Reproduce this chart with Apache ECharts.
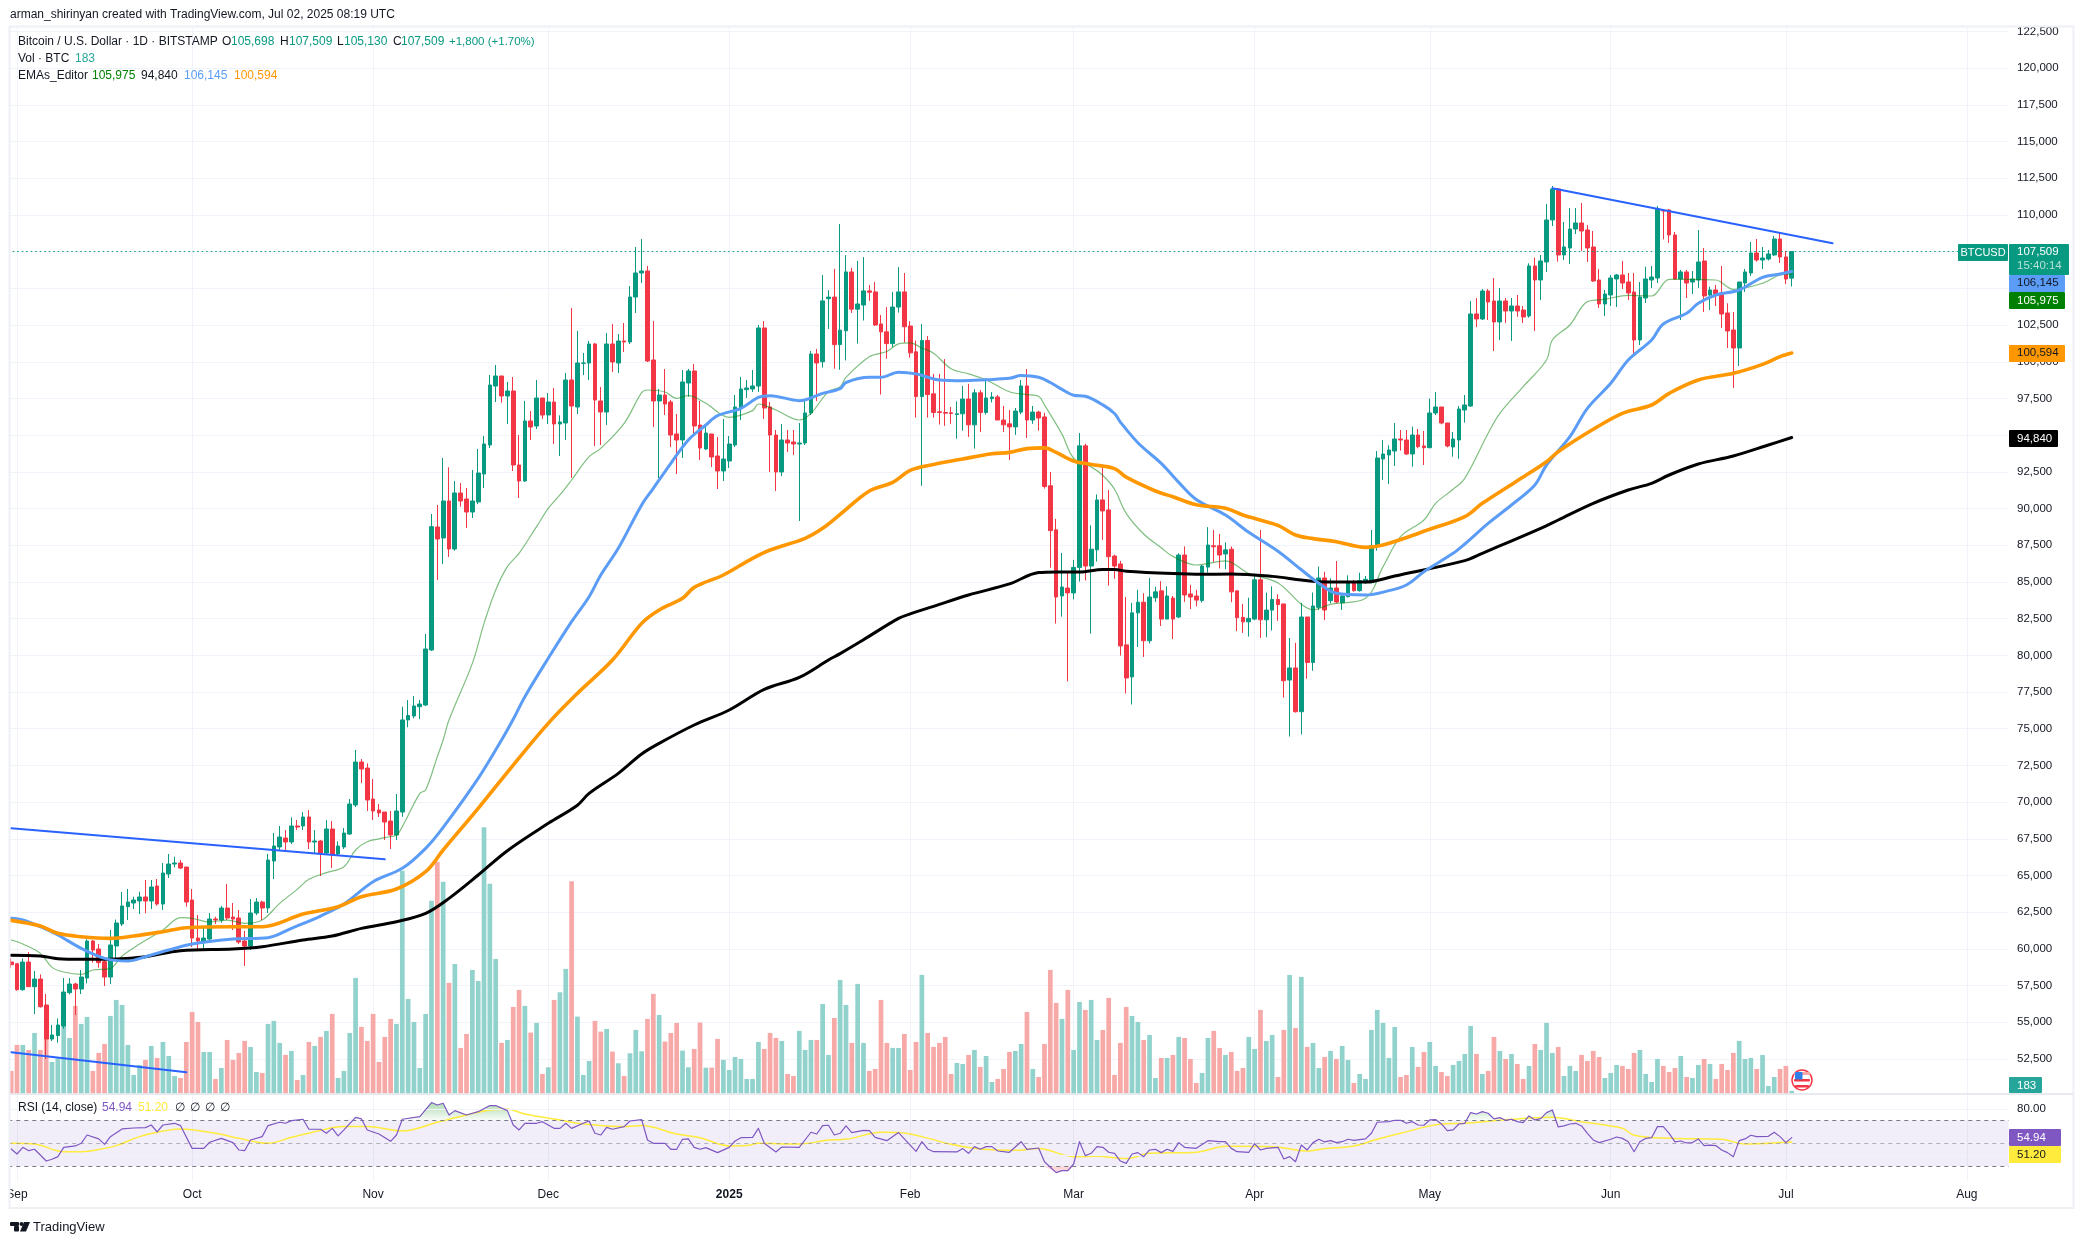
<!DOCTYPE html>
<html><head><meta charset="utf-8">
<style>html,body{margin:0;padding:0;background:#fff}#c{width:2084px;height:1244px}</style>
<script src="https://cdn.jsdelivr.net/npm/echarts@6/dist/echarts.min.js"></script>
</head><body><div id="c"></div>
<script>
// Each candle array runs from 2024-08-31 to 2025-07-02
const opens=[59107,58993,57222,59107,57427,57949,56178,53861,54100,54747,
57018,57609,57268,58017,60538,59993,59130,58085,60197,61696,
62877,63127,63263,63536,63263,64285,63059,65103,65784,65852,
65580,63332,60742,60538,60674,62037,61968,62786,62173,62105,
60538,60197,62445,63195,62786,65988,66942,67555,67283,68373,
68373,68986,67283,67351,66533,68168,66465,66942,67828,69804,
72733,72324,70212,69463,69327,68713,67760,69327,75600,75866,
76500,76617,80364,88744,87994,90515,87245,91060,90651,89765,
90447,92355,94330,98350,99031,97669,98009,92968,91877,95965,
95624,97532,96374,97260,95761,95829,98759,96919,99900,99917,
101211,97328,96578,101211,99917,101416,101348,104413,106049,106185,
100121,97328,97737,97260,95080,94671,98554,99372,95693,94058,
95080,93581,92559,93241,94330,96851,98100,98146,98350,102302,
96919,95011,92491,94671,94535,94398,94466,96510,100530,100000,
104300,104406,101169,102107,106119,103585,103867,104829,104758,102576,
102037,101239,103726,104758,102436,100676,97626,101450,97814,96594,
96547,96524,96407,96454,97462,95702,97884,96547,97485,97603,
96031,95773,95562,96570,98354,96031,96570,96242,91550,88548,
84043,84583,84254,85990,94271,86084,87187,90588,89908,86764,
86225,80712,78530,82894,83621,80993,83925,84395,82471,83902,
82612,86835,84184,84043,83738,86014,87468,87468,86906,87233,
84395,82588,82283,82471,85146,82424,83081,83808,83503,78319,
79140,76160,82612,79515,83271,85268,83725,84587,83589,83997,
84997,84406,84951,84951,87449,93376,93649,93922,94739,94671,
93717,95011,94262,94148,96510,96919,95829,94194,94670,96715,
96987,103255,102915,104822,104141,102710,104141,103459,103800,103527,
103119,106526,105572,106798,109660,111772,107275,107752,109046,109455,
108978,107820,105572,103937,104550,105640,105913,105435,104754,101484,
104345,105572,105708,110300,110341,108638,105640,106117,105435,105572,
106866,104550,104890,104686,103323,102165,100939,105367,106048,107411,
106934,107002,107275,108365,107139,105698];
const closes=[58925,57222,59107,57427,57949,56064,53861,54134,54815,57063,
57609,57268,58085,60538,59925,59062,58085,60265,61764,62922,
63195,63332,63536,63263,64217,63059,65171,65784,65852,65511,
63195,60742,60538,60742,62037,61968,62786,62105,62037,60470,
60197,62445,63195,62786,66056,67010,67623,67283,68373,68300,
68986,67283,67351,66533,68168,66465,67010,67896,69872,72733,
72256,70144,69395,69259,68645,67760,69395,75600,75900,76549,
76685,80431,88766,87926,90515,87245,91060,90515,89765,90515,
92423,94398,98418,99031,97669,98009,92968,91877,95965,95556,
97532,96374,97260,95761,95897,98759,96987,99917,99917,101211,
97396,96578,101211,99985,101416,101348,104413,106049,106185,100053,
97328,97737,97123,95011,94671,98622,99372,95624,94126,95147,
93513,92559,93377,94398,96919,98146,98213,98350,102302,96851,
95011,92491,94671,94466,94398,94466,96510,100530,99917,104148,
104406,101169,102154,106119,103585,103937,104829,104735,102506,102037,
101239,103726,104758,102389,100606,97626,101450,97767,96547,96547,
96500,96477,96454,97462,95702,97884,96547,97532,97603,96031,
95702,95562,96641,98354,96031,96570,96172,91503,88500,83973,
84653,84254,85990,94271,86084,87234,90588,89838,86719,86084,
80641,78460,82894,83621,80993,83973,84325,82471,84043,82471,
86835,84114,83973,83762,86084,87515,87398,86835,87186,84325,
82565,82283,82518,85146,82424,83081,83808,83456,78272,79140,
76160,82612,79515,83363,85268,83088,84587,83634,84043,84997,
84406,85088,85179,87472,93444,93717,93989,94739,94671,93717,
95011,94216,94148,96510,96919,95829,94262,94739,96783,97056,
103255,102915,104822,104073,102710,104141,103459,103800,103459,103051,
106526,105572,106866,109660,111772,107275,107820,109046,109455,108910,
107752,105504,103937,104618,105708,105913,105367,104686,101484,104414,
105640,105776,110409,110272,108638,105640,106117,105367,105640,106798,
104482,104890,104618,103255,102097,100939,105435,106117,107411,106934,
107070,107343,108365,107139,105640,107509];
const highs=[59357,59000,59350,59788,58494,58267,56927,54815,55270,58017,
58017,57700,58562,60651,60600,60333,59357,61287,62000,63876,
64081,63558,63900,64694,64694,64762,65852,66465,66283,66056,
65580,64081,62309,61423,62445,62190,62922,64422,63127,62650,
61219,63400,63468,63286,66465,67896,68373,68100,68963,68780,
69327,69463,68100,67419,68782,68713,67328,68236,70212,73551,
72937,72642,71575,69872,69327,69395,70553,76500,76950,77229,
76957,81454,89629,90243,93445,92810,91877,91741,91400,92627,
94058,94944,99099,99780,99031,98622,98963,95011,97328,96647,
98759,97532,97873,98213,96351,99235,103664,102097,100598,101416,
101280,98282,101961,102574,101893,102642,105163,107820,108365,106526,
102778,98146,99508,97396,96442,99440,99508,99849,97328,95557,
95080,94875,96101,94943,97737,98963,98758,99440,102506,102778,
97260,95352,95761,95352,95352,95830,97328,100734,100870,105908,
104875,106330,109380,107268,106400,106870,107128,105227,105439,103186,
103726,104758,106447,106048,102764,101450,102577,101755,99175,99175,
100183,96923,97298,98354,98494,98143,98072,98870,97931,97744,
96993,96711,96852,98753,99503,96993,96665,96524,92489,89298,
86975,85685,86506,95140,94413,88852,90964,92840,91269,86858,
86436,83973,83574,84465,84231,85263,84677,85052,84700,84043,
86952,87421,84794,84465,86155,88735,88547,88266,87703,87421,
84395,83503,83925,85568,88547,84278,84700,84161,83503,81180,
80852,83574,82612,84278,86041,85700,85250,86427,84225,85451,
85133,85633,85406,88539,93921,94671,94308,95829,95352,95352,
95579,95420,95284,97487,97941,96919,95829,95216,96987,97737,
104141,104345,104958,104958,105708,105027,104345,104345,104550,103800,
106707,107093,107275,110750,111976,111840,109523,110477,110477,110818,
109319,108910,106321,104890,105913,105980,106866,106048,106048,105435,
106480,106526,110613,110400,110409,108842,106253,106253,106180,108978,
107752,105117,105230,106526,103982,103391,105435,106321,108161,108365,
107820,107616,108570,108774,107548,107509];
const lows=[58721,57154,57150,57400,55564,56000,52499,53724,53611,54566,
56900,55496,56927,57654,59062,58721,57472,57609,59243,61560,
61969,62718,62377,62423,62718,62945,62650,64830,65557,65443,
62877,60129,59970,59857,60538,61696,61787,61969,61287,60333,
58835,59925,62300,61968,62445,64762,66670,66624,67147,68100,
68100,66806,66510,64966,66465,65511,66329,66806,67760,69667,
71302,69395,68782,68986,67419,66806,67419,69000,75100,75707,
75662,76549,80300,85133,86222,86700,87131,90130,88675,89357,
90300,91400,94126,97260,97215,95761,92559,90720,91810,94670,
95420,96102,95761,94399,93581,94671,92082,96442,99099,98758,
94262,94330,95693,99303,99235,100666,101211,103323,105367,99985,
95557,92082,96374,94194,92355,93445,97623,95011,93309,93990,
92832,91332,91877,92763,94194,96033,97532,97941,97941,96102,
92491,91196,92218,93853,93649,89152,94330,96374,97328,99600,
102233,99527,99456,100090,103327,101239,102811,104148,102436,97767,
100207,101000,103350,101309,100277,96195,91550,96195,96195,95726,
95632,95773,94764,95304,94882,94084,95210,96400,97228,96031,
95210,93310,95022,96430,94811,95773,95304,91362,85967,82166,
82635,78225,83808,85028,85098,81486,86389,87867,84747,85216,
79985,77403,76653,80571,79891,80806,83644,82001,82471,81111,
82541,83644,83152,83339,83600,85639,86342,85920,85873,83621,
81650,81531,81275,82400,81180,81228,81697,82354,77121,74472,
76100,74613,78413,78952,83088,82400,83543,83543,83088,83952,
84338,84338,84861,84906,87134,91946,91673,92899,93944,93649,
92854,94102,92968,94100,96374,95738,94170,93535,93399,95851,
96919,102370,102847,102847,100734,101484,102642,101416,103066,102642,
103000,102097,104209,106117,109251,106821,106934,106662,108700,107548,
106798,105435,103664,103119,103800,103732,104959,104209,100394,101143,
104005,105027,105367,108340,108093,105600,102846,104345,104618,105027,
103392,103528,103800,102302,100939,98214,99713,104754,105844,106821,
106321,106900,107207,106730,105299,105130];
const volumes=[1675,3625,3625,3250,4525,3250,4075,2350,2625,5125,
4150,6550,5200,5725,1675,3025,3700,5800,7000,6625,
3625,1375,2125,2500,3550,2650,3850,2800,1300,1150,
3850,6100,5350,3100,3100,1075,1900,4000,2500,3025,
3925,3475,1600,1525,5200,5425,3775,2875,3175,1000,
1375,3850,3550,4225,4675,5950,1150,1675,4525,8650,
4975,3925,5950,2350,4225,5575,5200,16675,7075,5350,
1900,5950,14425,17350,15850,8275,9700,3400,4450,9250,
8425,19950,15700,10075,3775,4000,6475,7750,6550,4550,
5275,1450,1950,7000,7575,9325,15900,5750,1375,2425,
5425,4625,4825,3125,2250,1300,3000,4750,3150,5575,
7450,5875,3875,4525,5275,3200,1950,3325,5300,1925,
1925,4075,2500,1750,2725,2575,1075,1075,3850,3325,
4525,4150,3925,1450,1300,4675,3250,4000,4000,6700,
2875,5650,8500,6625,3775,8200,3775,1675,1825,7000,
3775,3400,3400,4450,1750,3850,8875,4525,3475,3775,
4225,1450,2275,2200,2875,3250,1975,2800,850,1075,
1825,3100,3175,3700,6100,1825,1225,3700,9250,6775,
5575,7750,3250,6850,6250,7000,4000,4750,7150,1375,
3775,6475,5800,5350,4000,4375,1150,2650,2650,2875,
4225,4150,2575,775,1525,4150,4675,3400,2875,3100,
1675,1900,4225,3325,6250,3925,4375,1225,4750,8875,
4900,8725,3475,3775,1900,2725,3175,2575,3550,2500,
775,1450,1075,4750,6250,5275,2650,4975,1225,1375,
3475,1975,3100,3850,2050,1600,1300,2125,2425,2950,
5050,2950,1450,1675,4225,3175,2575,2950,2200,1075,
2050,3700,3250,5275,3025,3475,1300,2050,1675,2875,
2425,3175,2725,1150,1525,2125,2050,1825,3025,3250,
1450,850,2575,2050,1600,1900,2800,1225,1150,2125,
2575,2200,1075,2200,1750,3025,3925,2575,2650,1825,
2875,550,1225,1825,2050,183];

// Days counted from 2024-09-01
const ema20Days=[-1,1,4,6,8,11,13,16,18,21,25,28,30,33,36,39,42,45,48,50,53,56,58,60,63,65,66,69,70,72,73,74,78,80,82,84,86,89,91,93,95,98,100,104,107,108,111,113,115,118,122,126,127,130,134,136,139,141,142,146,149,151,153,155,157,160,163,166,170,173,175,176,179,181,184,186,188,190,193,196,198,202,207,211,216,220,222,225,231,234,237,241,243,246,248,252,254,258,262,263,266,269,272,276,280,283,286,291,294,299,302,304];
const ema20Values=[60606,60333,59698,58744,58426,58267,58562,58675,59516,60333,61287,62127,62082,61832,61968,61741,61968,63104,64058,64739,65193,65602,66738,67305,67578,67760,68327,70598,70825,73097,74232,75594,79455,82180,84451,86041,86949,88766,90015,90924,91946,93535,94103,95806,97895,98077,97941,97510,97691,97169,96215,96669,97123,96715,96033,96488,97964,98300,98940,100348,100700,101216,101286,100934,100582,99527,99175,98776,97955,97767,97650,97064,95069,93427,92840,92254,91315,89673,88266,87328,86741,86155,86436,85568,84934,83475,83105,83475,83884,86041,88085,89220,90356,91310,92059,95125,96488,98305,100121,101484,102506,104096,104255,104527,104482,105617,105617,105572,104936,105345,105912,105975];
const ema50Days=[-1,1,4,7,11,15,19,22,26,30,37,43,47,52,56,61,66,70,73,79,83,85,87,91,95,98,100,103,107,109,112,115,118,120,124,127,129,134,138,141,142,146,148,151,154,158,162,166,170,172,175,177,179,181,183,186,188,189,192,196,199,202,207,211,216,220,223,226,231,235,238,241,246,248,252,256,260,262,266,269,273,276,280,282,286,288,291,295,299,302,304];
const ema50Values=[62082,61968,61514,60946,60038,59357,59175,59470,59925,60333,60674,60765,61401,62241,63059,64580,65489,66851,68282,71620,74232,75650,77185,79800,82294,83997,85473,87290,90243,91378,93081,94671,95693,96329,96828,97578,97691,97351,97850,98168,98588,98940,98940,99292,99175,98753,98705,98776,98870,99058,98940,98588,98119,97721,97650,97064,96476,95890,94484,93075,91785,90612,89556,88383,87093,85830,84906,84225,84111,84406,84792,85700,86949,87585,88993,90242,91605,92967,94898,96829,98531,100121,101484,102575,103300,103982,104550,104890,105753,105980,106145];
const ema100Days=[-1,4,7,11,16,20,25,29,37,42,49,55,59,65,70,73,79,85,91,96,102,107,110,114,116,121,126,129,135,138,141,146,150,153,157,162,167,170,173,176,178,181,184,188,190,195,198,202,207,210,216,219,222,226,231,234,242,248,251,257,262,264,270,275,280,283,288,294,299,302,304];
const ema100Values=[61946,61560,61060,60833,60720,60878,61174,61446,61514,61514,62377,62877,63558,64081,65261,66738,69576,72528,75367,77411,79682,82178,83089,83883,84633,85474,86609,87177,87972,88652,89600,91198,91785,92606,93005,93380,93732,93826,94084,94131,93826,93239,93005,92723,92137,91198,90799,90260,90025,89556,88852,88200,87950,87744,87358,87518,88585,89447,90356,91900,93194,93876,95398,96488,97055,97850,98759,99212,99826,100348,100594];
const ema200Days=[-1,4,7,11,17,22,28,37,42,49,54,59,65,70,74,79,84,91,96,98,103,107,110,116,122,128,134,139,141,145,151,153,157,163,170,175,178,182,186,188,190,198,203,208,215,220,223,231,236,248,251,261,264,270,276,280,283,288,294,300,304];
const ema200Values=[59561,59516,59334,59289,59311,59470,59879,59993,60152,60606,60878,61401,61855,62423,63445,65034,66692,68554,69790,70598,71960,73278,74004,75254,76275,77680,78500,79682,80120,81064,82518,82823,83339,84114,84864,85639,85685,85685,85849,85849,85732,85568,85521,85544,85380,85133,85020,84996,85405,86450,86949,88653,89220,90356,91264,91718,92286,93036,93581,94330,94840];
const rsiDays=[-1,0,1,2,3,4,5,6,7,8,10,11,12,14,15,16,18,20,22,23,24,25,27,28,30,32,33,35,37,38,39,40,42,43,45,46,47,49,50,52,53,54,55,56,58,59,60,62,64,65,66,69,71,72,73,74,75,77,79,81,82,84,85,86,87,89,90,91,92,93,94,95,97,98,99,100,101,102,104,105,107,108,109,111,112,113,114,115,116,117,118,120,122,123,124,126,127,128,130,131,134,136,137,138,139,140,141,142,143,145,146,147,149,151,154,155,156,157,161,162,163,164,165,166,167,168,170,172,173,175,176,178,179,180,181,182,183,184,185,186,187,188,189,190,191,192,193,194,195,196,197,198,199,200,202,204,206,207,208,209,211,212,213,214,216,217,218,219,220,221,222,223,224,225,226,227,228,229,231,232,233,235,236,237,238,239,240,241,242,243,244,245,246,247,248,249,250,251,252,253,254,255,256,257,258,259,260,261,262,263,264,265,266,267,268,269,270,271,273,274,275,276,277,278,279,280,281,282,283,284,285,286,287,288,289,290,291,292,293,294,295,296,297,298,300,301,302,303,304];
const rsiValues=[45.1,40.7,46.5,43.6,44.8,39.8,34.6,36.1,38.4,46.5,47.7,50,57.2,53.8,49.1,55.8,62.5,63.3,63.6,65.9,59.9,65.9,67.4,65.4,45.6,45.6,50.9,54.3,50.6,44.2,43.6,52.9,55.8,65.4,68.3,67.4,69.7,70.9,62.2,62.2,58.7,63,56.4,61.6,72.6,71.2,61.6,58.1,51.7,57.2,70.9,73.2,85.4,83.3,84.8,74.6,78.4,74.6,77.5,82.8,82.8,78.4,65.9,61.6,67.4,67.4,68.8,65.9,63,63,67.4,63,67.4,69.4,58.7,57.2,63.9,62.2,64.5,69.4,70.6,52.9,50,50,44.8,44.8,53.5,53.8,46.5,44.8,46.2,41.9,46.5,52,54.9,55.2,63,50,42.5,46.8,46.5,59.6,58.1,65.4,65.7,57.2,58.7,65.1,59.3,61.3,61,55.2,52.3,59.3,43,51.4,45.1,42.7,42.5,45.4,41.3,47.1,44.8,47.1,47.1,43.3,42.2,51.4,44.8,45.9,34,24.5,26.2,26.2,32,51.4,39.3,41.3,47.1,46.5,42.2,41.3,34.6,32.6,40.7,41.9,38.4,44.2,44.8,41.9,44.8,43,50.6,46.5,45.6,52.3,51.4,51.4,45.6,42.7,42.2,49.7,44.2,45.6,46.5,36.4,38.4,34,48.5,44.2,50.6,53.5,51.2,52.3,50.6,51.4,53.5,52.6,53.8,58.7,68.3,68.8,70,70,67.4,68.8,65.9,65.7,70.3,70.6,66.8,61,61.6,66.8,67.4,76.7,75.5,77.5,76.1,71.2,72.3,70,70.9,68.8,68,73.8,70.3,71.5,76.7,79,64.2,65.1,66.8,67.4,65.1,58.7,52.9,50.6,53.5,55.5,54.3,51.4,42.7,51.4,54.3,54.9,64.5,64.5,58.7,51.2,52,50.3,50.6,53.8,48,48.5,48,44.2,41.9,38.4,52.3,53.8,57,55.8,56.1,59.6,55.8,50.6,54.94];
const rsiMaDays=[-1,3,8,11,15,17,21,24,28,34,38,43,47,51,56,60,66,72,77,81,84,87,93,96,104,107,113,117,122,125,127,134,139,142,148,151,155,160,165,171,175,181,185,190,194,202,207,215,221,224,229,233,237,244,248,254,263,268,275,277,283,292,296,303,304];
const rsiMaValues=[50,49.4,42.7,42.7,45.6,48,55.8,59.6,62.5,58.7,54.3,50,55.2,60.1,64.5,64.5,60.7,68.3,74.6,79,79.6,75.5,70.3,67.4,64.5,65.4,58.1,54.9,47.7,48,50,49.4,52.9,53.5,59.6,59.3,55.8,49.1,45,43.9,45.4,38.4,38.7,36.7,41.3,42.2,47.4,47.1,43.3,45.4,47.7,53.5,58.7,66.8,67.4,70,72.6,68.8,63,57,54.3,53.5,49.4,50.9,51.2];
const trendA={days:[263,311],prices:[111817,108072]};
const trendB={days:[-1,63],prices:[68214,66102]};
const trendC={days:[-1,29],prices:[52953,51590]};
const priceTickMin=50000,priceTickMax=122500,priceStep=2500;
const lastPrice=107509;

const UP='#089981',DOWN='#f23645',UPV='#92d2cc',DOWNV='#f7a9a7';
const FONT='"Liberation Sans",Arial,sans-serif';
const monthLabels={'2024-09-01':'Sep','2024-10-01':'Oct','2024-11-01':'Nov','2024-12-01':'Dec','2025-01-01':'2025','2025-02-01':'Feb','2025-03-01':'Mar','2025-04-01':'Apr','2025-05-01':'May','2025-06-01':'Jun','2025-07-01':'Jul','2025-08-01':'Aug'};
const slotCount=343;
const dates=[];
for(let i=0;i<slotCount;i++){dates.push(new Date(Date.UTC(2024,7,31+i)).toISOString().slice(0,10));}
const dayKey=d=>dates[d+1];
const pairs=(ds,vs)=>ds.map((d,i)=>[dayKey(d),vs[i]]);
const isMonth=(i,v)=>!!monthLabels[v];
const GL=8.24,GW=2002.4;
const gridColor='#f0f3fa';

const candleData=opens.map((o,i)=>[o,closes[i],lows[i],highs[i]]);
const volData=volumes.map((v,i)=>({value:v,itemStyle:{color:closes[i]>=opens[i]?UPV:DOWNV}}));
const rsiPairs=pairs(rsiDays,rsiValues);

function lineSeries(name,data,color,width,xi,yi,z,extra){
  return Object.assign({name,type:'line',data,xAxisIndex:xi,yAxisIndex:yi,z,showSymbol:false,symbol:'none',silent:true,animation:false,
    lineStyle:{color,width,cap:'round',join:'round'}},extra||{});
}
const SMOOTH={smooth:0.35};
const catBase={type:'category',data:dates,boundaryGap:true,axisLine:{show:false},axisTick:{show:false}};
const option={
  animation:false,backgroundColor:'#fff',
  grid:[
    {left:GL,width:GW,top:31.5,height:1064.2},
    {left:GL,width:GW,top:26,height:1067.3},
    {left:GL,width:GW,top:1094.4,height:86.3}
  ],
  xAxis:[
    Object.assign({},catBase,{gridIndex:0,axisLabel:{show:false},splitLine:{show:false}}),
    Object.assign({},catBase,{gridIndex:1,axisLabel:{show:false},splitLine:{show:true,alignWithLabel:true,interval:isMonth,lineStyle:{color:gridColor,width:1}}}),
    Object.assign({},catBase,{gridIndex:2,splitLine:{show:true,alignWithLabel:true,interval:isMonth,lineStyle:{color:gridColor,width:1}},
      axisLabel:{interval:isMonth,margin:8,color:'#131722',fontFamily:FONT,fontSize:12,
        formatter:v=>monthLabels[v]==='2025'?'{b|2025}':(monthLabels[v]||''),rich:{b:{fontWeight:'bold',fontFamily:FONT,fontSize:12,color:'#131722'}}}})
  ],
  yAxis:[
    {type:'value',gridIndex:0,position:'right',min:priceTickMin,max:priceTickMax,interval:priceStep,scale:true,
      axisLine:{show:false},axisTick:{show:false},
      splitLine:{show:true,showMinLine:false,lineStyle:{color:gridColor,width:1}},
      axisLabel:{margin:6.4,color:'#131722',fontFamily:FONT,fontSize:11.5,showMinLabel:false,
        formatter:v=>v===priceTickMin?'':String(v).replace(/\B(?=(\d{3})+$)/g,',')}},
    {type:'value',gridIndex:1,position:'right',min:0,max:80000,show:false,splitLine:{show:false}},
    {type:'value',gridIndex:2,position:'right',min:17.5,max:92.5,interval:2.5,
      axisLine:{show:false},axisTick:{show:false},splitLine:{show:false},
      axisLabel:{margin:6.4,color:'#131722',fontFamily:FONT,fontSize:11.5,formatter:v=>v===80?'80.00':''}}
  ],
  series:[
    {name:'Vol',type:'bar',data:volData,xAxisIndex:1,yAxisIndex:1,barWidth:4.7,z:2,silent:true,animation:false},
    {name:'BTCUSD',type:'candlestick',data:candleData,xAxisIndex:0,yAxisIndex:0,z:3,barWidth:4.2,silent:true,animation:false,
      itemStyle:{color:UP,color0:DOWN,borderColor:UP,borderColor0:DOWN,borderWidth:1},
      markLine:{silent:true,symbol:'none',animation:false,label:{show:false},lineStyle:{color:UP,type:[1.5,3],width:1},data:[{yAxis:lastPrice}]}},
    lineSeries('EMA20',pairs(ema20Days,ema20Values),'rgba(0,128,0,0.5)',1.2,0,0,4,SMOOTH),
    lineSeries('EMA200',pairs(ema200Days,ema200Values),'#000000',3,0,0,4,SMOOTH),
    lineSeries('EMA50',pairs(ema50Days,ema50Values),'#5b9cf6',3,0,0,4,SMOOTH),
    lineSeries('EMA100',pairs(ema100Days,ema100Values),'#ff9800',3.6,0,0,4,SMOOTH),
    lineSeries('TrendA',pairs(trendA.days,trendA.prices),'#2962ff',2,0,0,5),
    lineSeries('TrendB',pairs(trendB.days,trendB.prices),'#2962ff',2,0,0,5),
    lineSeries('TrendC',pairs(trendC.days,trendC.prices),'#2962ff',2,0,0,5),
    lineSeries('RSI-over',rsiPairs.map(p=>[p[0],Math.max(p[1],70)]),'transparent',0,2,2,3,{areaStyle:{origin:70,opacity:1,color:{type:'linear',x:0,y:0,x2:0,y2:1,colorStops:[{offset:0,color:'rgba(76,175,80,0.45)'},{offset:1,color:'rgba(76,175,80,0.03)'}]}}}),
    lineSeries('RSI-under',rsiPairs.map(p=>[p[0],Math.min(p[1],30)]),'transparent',0,2,2,3,{areaStyle:{origin:30,opacity:1,color:'rgba(242,54,69,0.2)'}}),
    lineSeries('RSI-MA',pairs(rsiMaDays,rsiMaValues),'#ffeb3b',1.5,2,2,4,SMOOTH),
    lineSeries('RSI',rsiPairs,'#7e57c2',1.2,2,2,5,{
      markArea:{silent:true,animation:false,itemStyle:{color:'rgba(126,87,194,0.1)'},data:[[{yAxis:30},{yAxis:70}]]},
      markLine:{silent:true,symbol:'none',animation:false,label:{show:false},data:[
        {yAxis:80,lineStyle:{color:gridColor,type:'solid',width:1}},
        {yAxis:40,lineStyle:{color:gridColor,type:'solid',width:1}},
        {yAxis:70,lineStyle:{color:'#787b86',type:[4,4],width:1}},
        {yAxis:50,lineStyle:{color:'rgba(120,123,134,0.55)',type:[4,4],width:1}},
        {yAxis:30,lineStyle:{color:'#787b86',type:[4,4],width:1}}]}})
  ],
  graphic:{elements:buildGraphics()}
};
function txt(text,x,y,fill,size,align,weight){
  return {type:'text',x,y,silent:true,z:60,style:{text,fill:fill||'#131722',align:align||'left',verticalAlign:'middle',
    font:(weight?weight+' ':'')+(size||12)+'px '+FONT}};
}
function box(x,y,w,h,fill,z){return {type:'rect',x,y,silent:true,z:z||50,shape:{x:0,y:0,width:w,height:h,r:1},style:{fill}};}
function buildGraphics(){
  const g=[];
  g.push(box(0,26,9.5,1182,'#fff',40));
  g.push(box(2008.5,26,3,1155,'#fff',40));
  g.push({type:'rect',silent:true,z:41,shape:{x:9.5,y:26.5,width:2064,height:1181.5},style:{fill:'none',stroke:'#eef0f5',lineWidth:2}});
  g.push({type:'line',silent:true,z:41,shape:{x1:10,y1:1094,x2:2073,y2:1094},style:{stroke:'#e0e3eb',lineWidth:1.5}});
  g.push(txt('arman_shirinyan created with TradingView.com, Jul 02, 2025 08:19 UTC',10,15,'#131722',12));
  g.push(txt('Bitcoin / U.S. Dollar · 1D · BITSTAMP',18,42,'#131722',12));
  const tv='#089981';
  [['O',222,'#131722'],['105,698',231,tv],['H',280,'#131722'],['107,509',289,tv],['L',337,'#131722'],['105,130',344,tv],['C',393,'#131722'],['107,509',401,tv]].forEach(r=>g.push(txt(r[0],r[1],42,r[2],12)));
  g.push(txt('+1,800 (+1.70%)',449,42,tv,11.5));
  g.push(txt('Vol · BTC',18,59,'#131722',12));
  g.push(txt('183',75,59,'#26a69a',12));
  g.push(txt('EMAs_Editor',18,76,'#131722',12));
  g.push(txt('105,975',92,76,'#008000',12));
  g.push(txt('94,840',141,76,'#131722',12));
  g.push(txt('106,145',184,76,'#5b9cf6',12));
  g.push(txt('100,594',234,76,'#ff9800',12));
  g.push(txt('RSI (14, close)',18,1108,'#131722',12));
  g.push(txt('54.94',102,1108,'#7e57c2',12));
  g.push(txt('51.20',138,1108,'#ffeb3b',12));
  [175,190,205,220].forEach(x=>g.push(txt('∅',x,1108,'#131722',12)));
  g.push(box(1958,244,50,17,UP));
  g.push(txt('BTCUSD',1983,252.7,'#fff',11,'center'));
  g.push(box(2009,244,60,31,UP));
  g.push(txt('107,509',2017,252,'#fff',11.5));
  g.push(txt('15:40:14',2017,266,'rgba(255,255,255,0.7)',11.5));
  g.push(box(2009,275,56,17,'#5b9cf6'));
  g.push(txt('106,145',2017,283,'#131722',11.5));
  g.push(box(2009,292,56,17,'#008000'));
  g.push(txt('105,975',2017,300.5,'#fff',11.5));
  g.push(box(2009,345,56,17,'#ff9800'));
  g.push(txt('100,594',2017,353,'#131722',11.5));
  g.push(box(2009,430,49,17,'#000'));
  g.push(txt('94,840',2017,438.5,'#fff',11.5));
  g.push(box(2009,1077,33,16,'#26a69a'));
  g.push(txt('183',2017,1085.5,'#fff',11.5));
  g.push(box(2009,1129,52,17,'#7e57c2'));
  g.push(txt('54.94',2017,1137.5,'#fff',11.5));
  g.push(box(2009,1146,52,17,'#ffeb3b'));
  g.push(txt('51.20',2017,1154.5,'#131722',11.5));
  g.push({type:'circle',silent:true,z:55,shape:{cx:1802,cy:1080,r:10},style:{fill:'#fff',stroke:'#f23645',lineWidth:1.5}});
  g.push(box(1794,1072,16,3,'#f7a9a7',56));g.push(box(1794,1079,16,2.5,'#f23645',56));g.push(box(1795,1085,14,2.5,'#f23645',56));
  g.push(box(1795,1072,7.5,7.5,'#2f7fe8',57));
  g.push(box(10,1222,9,4,'#131722',55));g.push(box(14,1226,5,5.5,'#131722',55));
  g.push({type:'circle',silent:true,z:55,shape:{cx:21.5,cy:1224,r:2},style:{fill:'#131722'}});
  g.push({type:'polygon',silent:true,z:55,shape:{points:[[24,1222],[30,1222],[26,1231.5],[20,1231.5]]},style:{fill:'#131722'}});
  g.push(txt('TradingView',33,1227,'#131722',13));
  return g;
}
const chart=echarts.init(document.getElementById('c'),null,{renderer:'canvas',width:2084,height:1244});
chart.setOption(option);
</script></body></html>
